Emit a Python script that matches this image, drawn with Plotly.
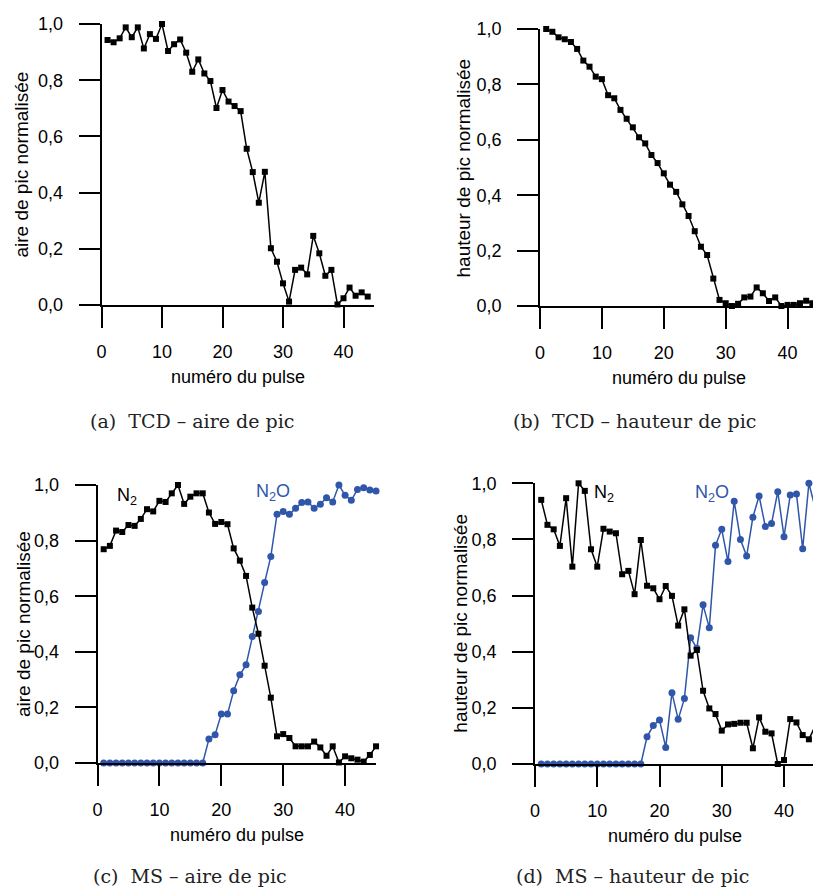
import plotly.graph_objects as go

# ---------------- data ----------------
pulse_44 = list(range(1, 45))
pulse_45 = list(range(1, 46))

tcd_area = [0.943, 0.935, 0.949, 0.988, 0.953, 0.988, 0.913, 0.964, 0.947, 1.0,
            0.904, 0.928, 0.945, 0.898, 0.830, 0.874, 0.824, 0.797, 0.701, 0.765,
            0.724, 0.708, 0.690, 0.556, 0.473, 0.364, 0.474, 0.202, 0.154, 0.077,
            0.012, 0.125, 0.133, 0.109, 0.246, 0.184, 0.104, 0.125, 0.002, 0.024,
            0.062, 0.033, 0.045, 0.030]

tcd_height = [1.0, 0.990, 0.970, 0.963, 0.953, 0.928, 0.886, 0.864, 0.828, 0.819,
              0.761, 0.750, 0.708, 0.676, 0.645, 0.609, 0.587, 0.545, 0.516, 0.479,
              0.438, 0.412, 0.367, 0.325, 0.270, 0.214, 0.184, 0.099, 0.022, 0.010,
              0.0, 0.008, 0.031, 0.034, 0.067, 0.046, 0.018, 0.031, 0.0, 0.004,
              0.004, 0.010, 0.019, 0.010]

ms_area_n2 = [0.769, 0.781, 0.836, 0.831, 0.856, 0.853, 0.878, 0.913, 0.905, 0.943,
              0.939, 0.970, 1.0, 0.932, 0.958, 0.970, 0.970, 0.901, 0.860, 0.867,
              0.859, 0.772, 0.728, 0.673, 0.559, 0.465, 0.350, 0.235, 0.096, 0.104,
              0.090, 0.060, 0.060, 0.060, 0.077, 0.056, 0.026, 0.060, 0.002, 0.024,
              0.017, 0.012, 0.005, 0.029, 0.060]

ms_area_n2o = [0.0, 0.0, 0.0, 0.0, 0.0, 0.0, 0.0, 0.0, 0.0, 0.0,
               0.0, 0.0, 0.0, 0.0, 0.0, 0.0, 0.0, 0.086, 0.102, 0.176,
               0.176, 0.260, 0.317, 0.353, 0.455, 0.545, 0.649, 0.743, 0.895, 0.905,
               0.895, 0.916, 0.937, 0.939, 0.916, 0.931, 0.954, 0.939, 1.0, 0.963,
               0.945, 0.984, 0.990, 0.982, 0.978]

ms_height_n2 = [0.941, 0.852, 0.836, 0.777, 0.947, 0.703, 1.0, 0.973, 0.765, 0.703,
                0.838, 0.828, 0.822, 0.676, 0.688, 0.605, 0.798, 0.635, 0.626, 0.587,
                0.634, 0.599, 0.493, 0.551, 0.386, 0.406, 0.261, 0.198, 0.178, 0.119,
                0.141, 0.143, 0.147, 0.147, 0.056, 0.166, 0.115, 0.109, 0.0, 0.014,
                0.160, 0.148, 0.103, 0.088, 0.135]

ms_height_n2o = [0.0, 0.0, 0.0, 0.0, 0.0, 0.0, 0.0, 0.0, 0.0, 0.0,
                 0.0, 0.0, 0.0, 0.0, 0.0, 0.0, 0.0, 0.097, 0.137, 0.157,
                 0.059, 0.254, 0.159, 0.233, 0.450, 0.412, 0.567, 0.485, 0.779, 0.836,
                 0.721, 0.936, 0.800, 0.741, 0.879, 0.955, 0.846, 0.857, 0.970, 0.810,
                 0.958, 0.962, 0.767, 1.0, 0.913]

x_tick_vals = [0, 10, 20, 30, 40]
x_tick_text = ["0", "10", "20", "30", "40"]
x_minor_vals = [5, 15, 25, 35, 45]
y_tick_vals = [0.0, 0.2, 0.4, 0.6, 0.8, 1.0]
y_tick_text = ["0,0", "0,2", "0,4", "0,6", "0,8", "1,0"]
y_minor_vals = [0.1, 0.3, 0.5, 0.7, 0.9]

x_title = "numéro du pulse"
y_title_area = "aire de pic normalisée"
y_title_height = "hauteur de pic normalisée"
captions = ["(a)\u00a0 TCD – aire de pic", "(b)\u00a0 TCD – hauteur de pic",
            "(c)\u00a0 MS – aire de pic", "(d)\u00a0 MS – hauteur de pic"]

# ---------------- layout helpers ----------------
W, H = 813, 887
BLACK = "#000000"
BLUE = "#2f56aa"
SANS = "Liberation Sans, Arial, sans-serif"
SERIF = "DejaVu Serif, serif"
LW = 1.8


def fx(p):
    return p / W


def fy(p):
    return 1 - p / H


# panel geometry in pixels: x0 (x=0), px per unit, ybot (y=0), ytop (y=1)
panels = [
    dict(x0=101.5, ppu=6.05, ybot=305, ytop=24),
    dict(x0=540, ppu=6.19, ybot=306, ytop=29),
    dict(x0=97.5, ppu=6.19, ybot=763, ytop=485),
    dict(x0=535, ppu=6.225, ybot=764, ytop=483.3),
]
ytitle_x = [21, 463, 23, 461]

fig = go.Figure()
layout = dict(width=W, height=H, margin=dict(l=0, r=0, t=0, b=0, pad=0, autoexpand=False),
              paper_bgcolor="white", plot_bgcolor="white", showlegend=False,
              template="simple_white")

annotations = []
for i, p in enumerate(panels):
    n = "" if i == 0 else str(i + 1)
    m = str(i + 5)  # overlay axes carrying the minor ticks
    xend_px = min(p["x0"] + 45 * p["ppu"], W)
    xmax = (xend_px - p["x0"]) / p["ppu"]
    xdom = [fx(p["x0"]), min(fx(xend_px), 1.0)]
    ydom = [fy(p["ybot"]), fy(p["ytop"])]
    common = dict(ticks="outside", tickwidth=LW, tickcolor=BLACK, showgrid=False,
                  zeroline=False, automargin=False, mirror=False,
                  tickfont=dict(family=SANS, size=18, color=BLACK))
    # main axes (line, major ticks, labels)
    layout["xaxis" + n] = dict(
        common, showline=True, linecolor=BLACK, linewidth=LW, ticklen=21,
        domain=xdom, range=[0, xmax], anchor="y" + n,
        tickmode="array", tickvals=x_tick_vals, ticktext=x_tick_text,
        ticklabelstandoff=8)
    layout["yaxis" + n] = dict(
        common, showline=True, linecolor=BLACK, linewidth=LW, ticklen=21,
        domain=ydom, range=[0, 1], anchor="x" + n,
        tickmode="array", tickvals=y_tick_vals, ticktext=y_tick_text,
        ticklabelstandoff=12)
    # overlay axes (minor ticks only)
    layout["xaxis" + m] = dict(
        common, showline=False, ticklen=11, domain=xdom, range=[0, xmax],
        anchor="y" + n, overlaying="x" + n, side="bottom",
        tickmode="array", tickvals=x_minor_vals, showticklabels=False)
    layout["yaxis" + m] = dict(
        common, showline=False, ticklen=11, domain=ydom, range=[0, 1],
        anchor="x" + n, overlaying="y" + n, side="left",
        tickmode="array", tickvals=y_minor_vals, showticklabels=False)
    # x title
    annotations.append(dict(text=x_title, xref="paper", yref="paper",
                            x=fx(p["x0"] + 22.5 * p["ppu"]),
                            y=fy(p["ybot"] + 72), xanchor="center", yanchor="middle",
                            showarrow=False, font=dict(family=SANS, size=18, color=BLACK)))
    # y title
    annotations.append(dict(text=y_title_area if i in (0, 2) else y_title_height,
                            xref="paper", yref="paper",
                            x=fx(ytitle_x[i]), y=fy((p["ybot"] + p["ytop"]) / 2),
                            xanchor="center", yanchor="middle", textangle=-90,
                            showarrow=False, font=dict(family=SANS, size=19, color=BLACK)))

# captions
cap_pos = [(191.5, 421), (634, 421), (190, 876), (632.5, 876)]
for txt, (cx, cy) in zip(captions, cap_pos):
    annotations.append(dict(text=txt, xref="paper", yref="paper", x=fx(cx), y=fy(cy),
                            xanchor="center", yanchor="middle", showarrow=False,
                            font=dict(family=SERIF, size=19, color="#222222")))

# series labels
label_specs = [("N<sub>2</sub>", BLACK, 115, 496), ("N<sub>2</sub>O", BLUE, 254, 492),
               ("N<sub>2</sub>", BLACK, 592, 493), ("N<sub>2</sub>O", BLUE, 693, 493)]
for txt, col, lx, ly in label_specs:
    annotations.append(dict(text=txt, xref="paper", yref="paper", x=fx(lx), y=fy(ly),
                            xanchor="left", yanchor="middle", showarrow=False,
                            font=dict(family=SANS, size=18, color=col)))

layout["annotations"] = annotations
fig.update_layout(**layout)

sq = dict(symbol="square", size=6, color=BLACK)
ci = dict(symbol="circle", size=7, color=BLUE)
lb = dict(color=BLACK, width=1.5)
lu = dict(color=BLUE, width=1.5)

fig.add_trace(go.Scatter(x=pulse_44, y=tcd_area, mode="lines+markers", marker=sq, line=lb,
                         xaxis="x", yaxis="y", cliponaxis=False))
fig.add_trace(go.Scatter(x=pulse_44, y=tcd_height, mode="lines+markers", marker=sq, line=lb,
                         xaxis="x2", yaxis="y2", cliponaxis=False))
fig.add_trace(go.Scatter(x=pulse_45, y=ms_area_n2o, mode="lines+markers", marker=ci, line=lu,
                         xaxis="x3", yaxis="y3", cliponaxis=False))
fig.add_trace(go.Scatter(x=pulse_45, y=ms_area_n2, mode="lines+markers", marker=sq, line=lb,
                         xaxis="x3", yaxis="y3", cliponaxis=False))
fig.add_trace(go.Scatter(x=pulse_45, y=ms_height_n2o, mode="lines+markers", marker=ci, line=lu,
                         xaxis="x4", yaxis="y4", cliponaxis=False))
fig.add_trace(go.Scatter(x=pulse_45, y=ms_height_n2, mode="lines+markers", marker=sq, line=lb,
                         xaxis="x4", yaxis="y4", cliponaxis=False))

fig.write_html("out.html", config={"displayModeBar": False},
               post_script="document.body.style.margin='0';"
                           "document.body.style.overflow='hidden';")
